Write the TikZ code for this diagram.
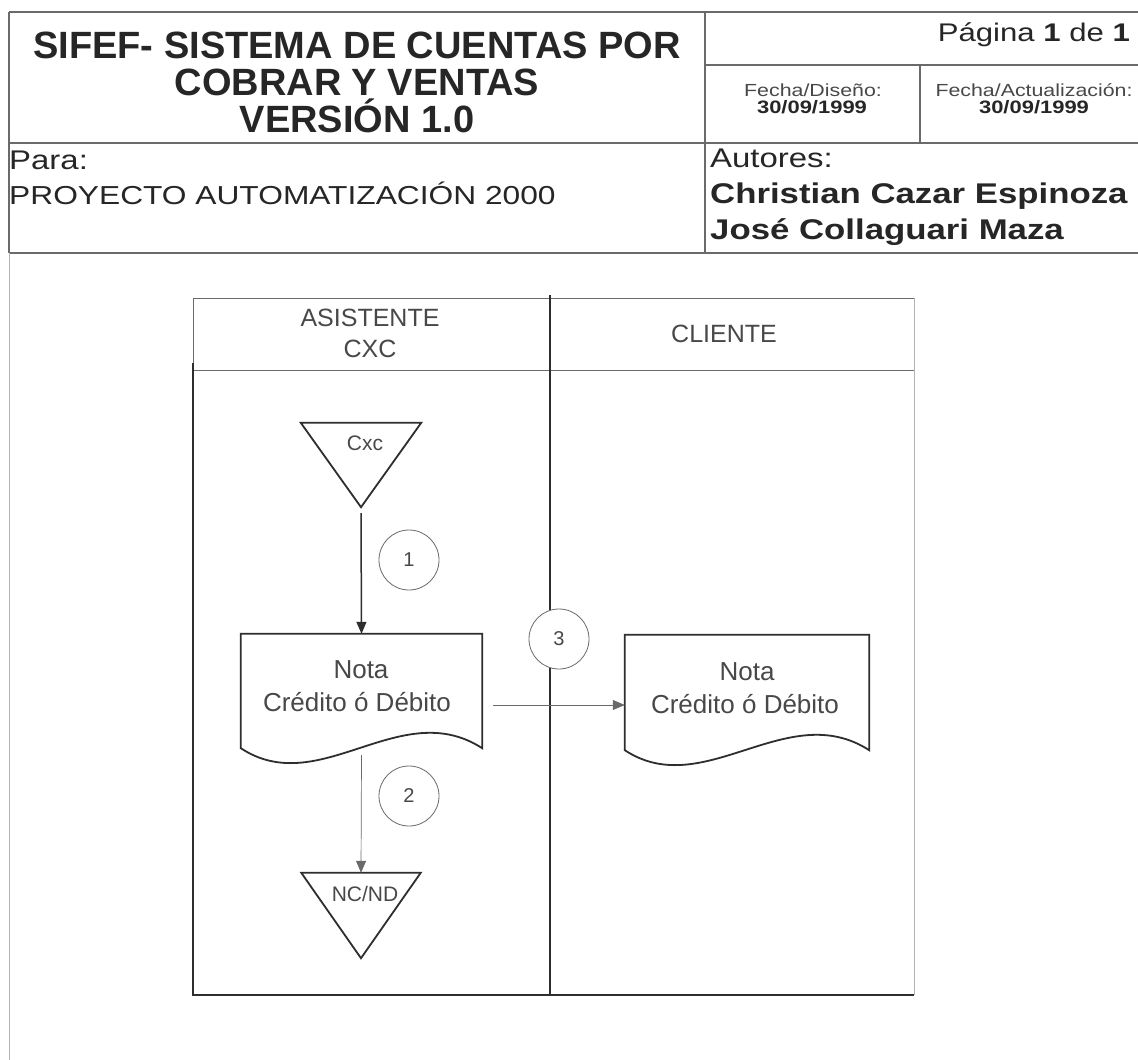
\documentclass[tikz,border=0pt]{standalone}
\usepackage{fontspec}
\setmainfont{Liberation Sans}
\usetikzlibrary{arrows.meta,calc}
\definecolor{ink}{HTML}{262626}
\definecolor{gline}{HTML}{6A6A6A}
\definecolor{lgline}{HTML}{B4B4B4}
\definecolor{dtext}{HTML}{484848}
\definecolor{dline}{HTML}{2E2E2E}
\newcommand\fs[1]{\fontsize{#1}{#1}\selectfont}
\newcommand\hstretch[1]{\scalebox{1.22}[1]{#1}}
\begin{document}
\begin{tikzpicture}[x=1pt,y=-1pt,
  hdr/.style={draw=gline,line width=1.2pt},
  txt/.style={inner sep=0pt,anchor=base,text=ink},
  ltxt/.style={inner sep=0pt,anchor=base west,text=ink},
  rtxt/.style={inner sep=0pt,anchor=base east,text=ink},
  dtxt/.style={inner sep=0pt,anchor=base,text=dtext},
  lanethin/.style={draw=gline,line width=0.8pt},
  lanefaint/.style={draw=lgline,line width=0.8pt},
  lanethick/.style={draw=dline,line width=1.8pt},
  shapeline/.style={draw=dline,line width=1.8pt,line join=miter},
  box/.style={inner sep=0pt,minimum width=#1},
  flowthick/.style={draw=dline,line width=1.5pt,-{Triangle[length=12pt,width=10pt]}},
  flowthin/.style={draw=gline,line width=0.7pt,-{Triangle[length=12pt,width=10pt]}},
  numc/.style={circle,draw=gline,line width=0.8pt,fill=white,minimum size=60pt,inner sep=0pt,text=dtext,font=\fs{20}}
]
\useasboundingbox[fill=white] (0,0) rectangle (1138,1060);

% ---------- header table ----------
\draw[hdr] (9,12) -- (1138,12);
\draw[hdr] (9,143) -- (1138,143);
\draw[hdr] (9,253) -- (1138,253);
\draw[hdr] (9,12) -- (9,253);
\draw[hdr] (705,12) -- (705,253);
\draw[hdr] (705,65) -- (1138,65);
\draw[hdr] (920,65) -- (920,143);
\draw[lanefaint] (9,253) -- (9,1060);

\node[txt,font=\fs{38}\bfseries] (t1) at (357,58) {SIFEF- SISTEMA DE CUENTAS POR};
\node[txt,font=\fs{38}\bfseries] (t2) at (357,95) {COBRAR Y VENTAS};
\node[txt,font=\fs{38}\bfseries] (t3) at (357,132) {VERSIÓN 1.0};
\node[ltxt,font=\fs{27}] (para) at (9,169) {\hstretch{Para:}};
\node[ltxt,font=\fs{26}] (proy) at (9,204) {\hstretch{PROYECTO AUTOMATIZACIÓN 2000}};
\node[rtxt,font=\fs{25.5}] (pag) at (1130,41) {\hstretch{Página \textbf{1} de \textbf{1}}};
\node[txt,font=\fs{17.5},text=dtext] (fd) at (813,96) {\hstretch{Fecha/Diseño:}};
\node[txt,font=\fs{18}\bfseries] (fdd) at (812,113) {\hstretch{30/09/1999}};
\node[txt,font=\fs{17.5},text=dtext] (fa) at (1034,96) {\hstretch{Fecha/Actualización:}};
\node[txt,font=\fs{18}\bfseries] (fad) at (1034,113) {\hstretch{30/09/1999}};
\node[ltxt,font=\fs{27}] (aut) at (710,167) {\hstretch{Autores:}};
\node[ltxt,font=\fs{28.5}\bfseries] (a1) at (710,203) {\hstretch{Christian Cazar Espinoza}};
\node[ltxt,font=\fs{28.5}\bfseries] (a2) at (710,239) {\hstretch{José Collaguari Maza}};

% ---------- swimlanes ----------
\draw[lanethin] (193,298) -- (914,298);
\draw[lanethin] (193,370) -- (914,370);
\draw[lanethin] (193,298) -- (193,363);
\draw[lanefaint] (914,298) -- (914,995);
\draw[lanethick] (193,363) -- (193,995) -- (914,995);
\draw[lanethick] (550,295) -- (550,995);

\node[dtxt,font=\fs{25}] (l1a) at (370,326) {ASISTENTE};
\node[dtxt,font=\fs{25}] (l1b) at (370,357) {CXC};
\node[dtxt,font=\fs{25}] (l2) at (724,342) {CLIENTE};

% ---------- shapes ----------
\node[box=120pt,minimum height=84pt] (cxc) at (361,465) {};
\draw[shapeline] (cxc.north west) -- (cxc.north east) -- (cxc.south) -- cycle;
\node[dtxt,font=\fs{21}] (cxct) at (365,450) {Cxc};

\node[box=119pt,minimum height=85pt] (ncnd) at (361,915.5) {};
\draw[shapeline] (ncnd.north west) -- (ncnd.north east) -- (ncnd.south) -- cycle;
\node[dtxt,font=\fs{21}] (ncndt) at (365,901) {NC/ND};

\node[box=241pt,minimum height=114pt] (d1) at (361.5,691) {};
\node[box=244pt,minimum height=115pt] (d2) at (747,692.5) {};
\foreach \d in {d1,d2}{
  \draw[shapeline] (\d.north west) -- (\d.north east) -- (\d.south east)
    .. controls ($(\d.south east)+(-82,-53)$) and ($(\d.south west)+(79,52)$) .. (\d.south west) -- cycle;
}
\node[dtxt,font=\fs{26}] (d1a) at (361,678) {Nota};
\node[dtxt,font=\fs{26}] (d1b) at (357,711) {Crédito ó Débito};
\node[dtxt,font=\fs{26}] (d2a) at (747,680) {Nota};
\node[dtxt,font=\fs{26}] (d2b) at (745,713) {Crédito ó Débito};

% ---------- connectors ----------
\draw[flowthick] ([yshift=-6pt]cxc.south) -- (d1.north);
\draw[flowthin] ([yshift=-7pt]d1.south) -- (ncnd.north);
\coordinate (a3s) at ([xshift=11pt,yshift=-14pt]d1.east);
\draw[flowthin] (a3s) -- ([yshift=-12.5pt]d2.west);

\node[numc] (n1) at (409,560) {1};
\node[numc] (n2) at (409,796) {2};
\node[numc] (n3) at (559,639) {3};
\end{tikzpicture}
\end{document}
